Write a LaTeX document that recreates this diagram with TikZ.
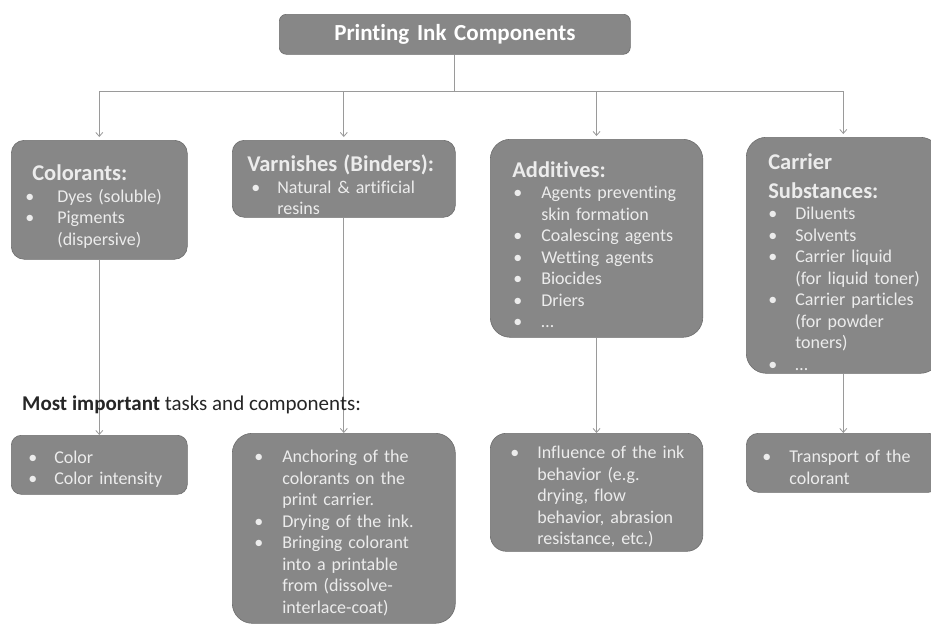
\documentclass[tikz,border=0pt]{standalone}
\usepackage{fontspec}
\setmainfont{Carlito}[Ligatures=NoCommon]
\usetikzlibrary{arrows.meta}
\definecolor{boxfill}{HTML}{878787}
\definecolor{boxline}{HTML}{6E6E6E}
\definecolor{boxtext}{HTML}{ECECEC}
\definecolor{linkcol}{HTML}{9A9A9A}
\newlength\HX \newlength\BX \newlength\TX
\newcommand\offs[3]{\setlength\HX{#1pt}\setlength\BX{#2pt}\setlength\TX{#3pt}}
\newcommand\hd[1]{\par\noindent\hspace*{\HX}{\bfseries\fontsize{22.5}{29}\selectfont #1\par}}
\newcommand\itm[1]{\par\noindent\hspace*{\BX}\makebox[\dimexpr\TX-\BX\relax][l]{\textbullet}#1}
\newcommand\cnt[1]{\par\noindent\hspace*{\TX}#1}
\begin{document}
\begin{tikzpicture}[x=1pt,y=-1pt,
  box/.style={draw=boxline,line width=0.6pt,fill=boxfill,anchor=north west,inner xsep=0pt,inner ysep=0pt,
    text=boxtext,align=left,font=\fontsize{18}{21.5}\selectfont},
  link/.style={draw=linkcol,line width=0.8pt},
  arr/.style={link,-{Straight Barb[length=4pt,width=7pt]}}]
\clip (0,0) rectangle (931,624);
\fill[white] (0,0) rectangle (931,624);

% title
\node[box,rounded corners=7pt,minimum width=351pt,minimum height=40pt,text width=351pt,align=center,
  font=\bfseries\fontsize{23}{28}\selectfont,text=white] (title) at (279,14) {Printing Ink Components};

% upper boxes
\node[box,rounded corners=13pt,minimum height=119pt,text width=176pt] (col) at (11,140)
 {\offs{21}{14}{46}\hd{Colorants:}\itm{Dyes (soluble)}\itm{Pigments}\cnt{(dispersive)}};
\node[box,rounded corners=12pt,minimum height=77pt,text width=223pt] (var) at (232,140)
 {\offs{15}{19}{45}\hd{Varnishes (Binders):}\itm{Natural \& artificial}\cnt{resins}};
\node[box,rounded corners=20pt,minimum height=198pt,text width=212.5pt] (add) at (490,139)
 {\offs{22}{23}{51}\hd{Additives:}\itm{Agents preventing}\cnt{skin formation}\itm{Coalescing agents}\itm{Wetting agents}\itm{Biocides}\itm{Driers}\itm{\ldots}};
\node[box,rounded corners=20pt,minimum height=236pt,text width=194pt] (car) at (746,137)
 {\offs{22}{22}{49}\hd{Carrier}\hd{Substances:}\itm{Diluents}\itm{Solvents}\itm{Carrier liquid}\cnt{(for liquid toner)}\itm{Carrier particles}\cnt{(for powder}\cnt{toners)}\itm{\ldots}};

% lower boxes
\node[box,rounded corners=10pt,minimum height=59pt,text width=176pt] (colt) at (11,435)
 {\offs{0}{17}{43}\itm{Color}\itm{Color intensity}};
\node[box,rounded corners=20pt,minimum height=190pt,text width=223pt] (vart) at (232,433)
 {\offs{0}{22}{50}\itm{Anchoring of the}\cnt{colorants on the}\cnt{print carrier.}\itm{Drying of the ink.}\itm{Bringing colorant}\cnt{into a printable}\cnt{from (dissolve-}\cnt{interlace-coat)}};
\node[box,rounded corners=16pt,minimum height=118pt,text width=212.5pt] (addt) at (490,433)
 {\offs{0}{20}{47}\itm{Influence of the ink}\cnt{behavior (e.g.}\cnt{drying, flow}\cnt{behavior, abrasion}\cnt{resistance, etc.)}};
\node[box,rounded corners=12pt,minimum height=59pt,text width=194pt] (cart) at (746,433)
 {\offs{0}{16}{43}\itm{Transport of the}\cnt{colorant}};

% tree connectors
\coordinate (bus) at (title.south |- 0,91);
\draw[link] (title.south) -- (bus);
\draw[link] (col.north |- bus) -- (car.north |- bus);
\foreach \n in {col,var,add,car}
  \draw[arr,shorten >=3pt] (\n.north |- bus) -- (\n.north);

\draw[arr] (col.south) -- (colt.north);
\draw[arr] (var.south) -- (vart.north);
\draw[arr] (add.south) -- (addt.north);
\draw[arr] (car.south) -- (cart.north);

\node[anchor=base west,inner sep=0pt,font=\fontsize{21}{25}\selectfont,text=black!85] (lbl) at (22,410)
 {\textbf{Most important} tasks and components:};
\end{tikzpicture}
\end{document}
